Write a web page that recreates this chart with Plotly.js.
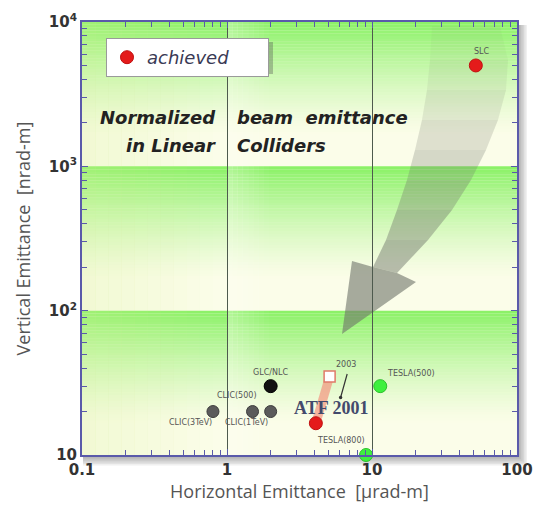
<!DOCTYPE html>
<html>
<head>
<meta charset="utf-8">
<script src="https://cdn.plot.ly/plotly-3.0.1.min.js"></script>
<style>html,body{margin:0;padding:0;background:#fff;}#chart{width:541px;height:509px;}</style>
</head>
<body>
<div id="chart"></div>
<script>
// ---- data ----
const achievedX = [52, 4.1];
const achievedY = [5000, 16.6];
const glcX = [2.0];
const glcY = [30];
const clicX = [0.8, 1.5, 2.0];
const clicY = [20, 20, 20];
const teslaX = [11.4, 9.1];
const teslaY = [30, 10];
const goalX = [5.1];
const goalY = [35];
const xTickVals = [0.1, 1, 10, 100];
const xTickText = ['0.1', '1', '10', '100'];
const yTickVals = [10, 100, 1000, 10000];
const yTickText = ['10', '10<sup>2</sup>', '10<sup>3</sup>', '10<sup>4</sup>'];
const xMinor = [0.2,0.3,0.4,0.5,0.6,0.7,0.8,0.9,2,3,4,5,6,7,8,9,20,30,40,50,60,70,80,90];
const yMinor = [20,30,40,50,60,70,80,90,200,300,400,500,600,700,800,900,2000,3000,4000,5000,6000,7000,8000,9000];

// ---- geometry helpers (pixel -> paper) ----
const L = 82, R = 517, T = 22, B = 455;
const px = v => (v - L) / (R - L);
const py = v => (B - v) / (B - T);
const lg = Math.log10;

const shapes = [];
// plot-area drop shadow
for (let i = 6; i >= 1; i--) {
  shapes.push({type:'rect', xref:'paper', yref:'paper', layer:'below',
    x0: px(L + 1), x1: px(R + 1 + i * 1.5), y0: py(B + 1 + i * 1.6), y1: py(T + 3),
    line:{width:0}, fillcolor:'rgba(70,70,70,0.08)'});
}
// base cream
shapes.push({type:'rect', xref:'paper', yref:'paper', layer:'below', x0:0, x1:1, y0:0, y1:1,
  line:{width:0}, fillcolor:'#fbfde9'});
// green gradient bands for each decade
const N = 40;
for (let k = 0; k < 3; k++) {
  const top = (k + 1) / 3;
  const span = (1 / 3) * 0.78;
  for (let i = 0; i < N; i++) {
    const a = 0.9 * Math.pow(1 - i / N, 1.4);
    shapes.push({type:'rect', xref:'paper', yref:'paper', layer:'below',
      x0:0, x1:1, y0: top - (i + 1) * span / N, y1: top - i * span / N,
      line:{width:0}, fillcolor:'rgba(128,240,90,' + a.toFixed(3) + ')'});
  }
}
// faint yellow-green tint on the left, lighter strip right of x=1
for (let i = 0; i < 10; i++) {
  shapes.push({type:'rect', xref:'paper', yref:'paper', layer:'below',
    x0: i * 0.03, x1: (i + 1) * 0.03 + 0.001, y0:0, y1:1, line:{width:0},
    fillcolor:'rgba(215,240,150,' + (0.25 * (1 - i / 10)).toFixed(3) + ')'});
}
for (let i = 0; i < 8; i++) {
  shapes.push({type:'rect', xref:'paper', yref:'paper', layer:'below',
    x0: 1/3 + i * 0.012, x1: 1/3 + (i + 1) * 0.012 + 0.001, y0:0, y1:1, line:{width:0},
    fillcolor:'rgba(255,255,248,' + (0.3 * (1 - i / 8)).toFixed(3) + ')'});
}
// big grey arrow (decoration)
const leftEdge = [[432,26],[430,60],[427,90],[422,120],[415,150],[407,180],[397,210],[386,240],[373,267]];
const rightEdge = [[500,26],[508,60],[506,90],[498,120],[486,150],[471,180],[452,210],[428,240],[397,273]];
for (let i = 0; i < leftEdge.length - 1; i++) {
  const p = [leftEdge[i], leftEdge[i+1], rightEdge[i+1], rightEdge[i]];
  const path = 'M' + p.map(q => px(q[0]).toFixed(4) + ',' + py(q[1]).toFixed(4)).join(' L') + ' Z';
  const a = 0.05 + 0.5 * Math.pow(i / (leftEdge.length - 1), 1.2);
  shapes.push({type:'path', xref:'paper', yref:'paper', layer:'between', path:path,
    line:{width:0}, fillcolor:'rgba(110,115,105,' + a.toFixed(3) + ')'});
}
const head = [[373,267],[352,261],[342,334],[416,282],[397,273]];
shapes.push({type:'path', xref:'paper', yref:'paper', layer:'between',
  path:'M' + head.map(q => px(q[0]).toFixed(4) + ',' + py(q[1]).toFixed(4)).join(' L') + ' Z',
  line:{width:0}, fillcolor:'rgba(110,115,105,0.6)'});
// legend shadow
shapes.push({type:'rect', xref:'paper', yref:'paper', layer:'above',
  x0: px(110), x1: px(273), y0: py(74), y1: py(42), line:{width:0}, fillcolor:'rgba(80,80,80,0.35)'});

const traces = [
  {x:[achievedX[1], goalX[0]], y:[achievedY[1], goalY[0]], mode:'lines', showlegend:false, hoverinfo:'skip',
   line:{color:'rgba(245,140,120,0.65)', width:9}},
  {x:clicX, y:clicY, mode:'markers', showlegend:false, marker:{size:12, color:'#5b5b5b', line:{color:'#3c3c3c', width:1}}},
  {x:glcX, y:glcY, mode:'markers', showlegend:false, marker:{size:13, color:'#111111', line:{color:'#000', width:1}}},
  {x:teslaX, y:teslaY, mode:'markers', showlegend:false, cliponaxis:false,
   marker:{size:13, color:'#3ef03e', line:{color:'#2cc02c', width:1}}},
  {x:goalX, y:goalY, mode:'markers', showlegend:false, marker:{symbol:'square', size:11, color:'#ffffff', line:{color:'#e07a68', width:1.5}}},
  {x:achievedX, y:achievedY, mode:'markers', name:'achieved', cliponaxis:false,
   marker:{size:13, color:'#e41b1b', line:{color:'#c01010', width:1}}}
];

const lblFont = {family:'DejaVu Sans, sans-serif', size:8, color:'#555'};
const lab = (x, y, text, xs, ys) => ({x:lg(x), y:lg(y), xref:'x', yref:'y', text:text, showarrow:false,
  xshift:xs, yshift:ys, font:lblFont});
const headFont = {family:'DejaVu Sans, sans-serif', size:18, color:'#222', weight:'bold', style:'italic'};
const annotations = [
  lab(achievedX[0], achievedY[0], 'SLC', 6, 14),
  lab(glcX[0], glcY[0], 'GLC/NLC', 0, 14),
  lab(clicX[1], clicY[1], 'CLIC(500)', -16, 16),
  lab(clicX[0], clicY[0], 'CLIC(3TeV)', -22, -11),
  lab(clicX[1], clicY[1], 'CLIC(1TeV)', -6, -11),
  lab(goalX[0], goalY[0], '2003', 16, 12),
  lab(teslaX[0], teslaY[0], 'TESLA(500)', 31, 13),
  lab(teslaX[1], teslaY[1], 'TESLA(800)', -25, 15),
  {x:lg(achievedX[1]), y:lg(achievedY[1]), xref:'x', yref:'y', text:'ATF 2001', showarrow:false,
   xshift:16, yshift:15, font:{family:'Liberation Serif, serif', size:18, color:'#434a6c', weight:'bold'}},
  {x:lg(goalX[0]), y:lg(goalY[0]), xref:'x', yref:'y', text:'', showarrow:true, arrowhead:6, arrowsize:0.7,
   arrowwidth:1.2, arrowcolor:'#333', xshift:11, yshift:-21, ax:7, ay:-25},
  {x:px(218), y:py(118), xref:'paper', yref:'paper', xanchor:'right', yanchor:'middle', showarrow:false,
   text:'Normalized', font:headFont},
  {x:px(218), y:py(145), xref:'paper', yref:'paper', xanchor:'right', yanchor:'middle', showarrow:false,
   text:'in Linear', font:headFont},
  {x:px(235), y:py(118), xref:'paper', yref:'paper', xanchor:'left', yanchor:'middle', showarrow:false,
   text:'beam\u00a0\u00a0emittance', font:headFont},
  {x:px(235), y:py(145), xref:'paper', yref:'paper', xanchor:'left', yanchor:'middle', showarrow:false,
   text:'Colliders', font:headFont}
];

const axisCol = '#5a5aaa';
const tickFont = {family:'DejaVu Sans, sans-serif', size:15, color:'#333', weight:'bold'};
const titleFont = {family:'Open Sans, sans-serif', size:18, color:'#555'};
const layout = {
  width:541, height:509,
  margin:{l:L, r:541 - R, t:T, b:509 - B},
  paper_bgcolor:'#ffffff', plot_bgcolor:'rgba(0,0,0,0)',
  showlegend:true,
  legend:{x:px(106), y:py(38), xanchor:'left', yanchor:'top', orientation:'h', entrywidth:116,
    bgcolor:'#ffffff', bordercolor:'#9a9a9a', borderwidth:1,
    font:{family:'DejaVu Sans, sans-serif', size:18, color:'#3a3a55', style:'italic'}},
  xaxis:{type:'log', range:[-1, 2], tickvals:xTickVals, ticktext:xTickText, ticks:'inside', ticklen:6,
    tickcolor:axisCol, showline:true, linecolor:axisCol, linewidth:2, mirror:'ticks',
    showgrid:true, gridcolor:'#4e5a4e', gridwidth:1, zeroline:false, tickfont:tickFont,
    minor:{tickvals:xMinor, ticks:'inside', ticklen:5, tickcolor:axisCol, showgrid:false},
    title:{text:'Horizontal Emittance \u00a0[\u03bcrad-m]', standoff:5, font:titleFont}},
  yaxis:{type:'log', range:[1, 4], tickvals:yTickVals, ticktext:yTickText, ticks:'inside', ticklen:6,
    tickcolor:axisCol, showline:true, linecolor:axisCol, linewidth:2, mirror:'ticks',
    showgrid:false, zeroline:false, tickfont:tickFont,
    minor:{tickvals:yMinor, ticks:'inside', ticklen:5, tickcolor:axisCol, showgrid:false},
    title:{text:'Vertical Emittance \u00a0[nrad-m]', standoff:14, font:titleFont}},
  shapes:shapes,
  annotations:annotations
};

Plotly.newPlot('chart', traces, layout, {displayModeBar:false, staticPlot:true});
</script>
</body>
</html>
